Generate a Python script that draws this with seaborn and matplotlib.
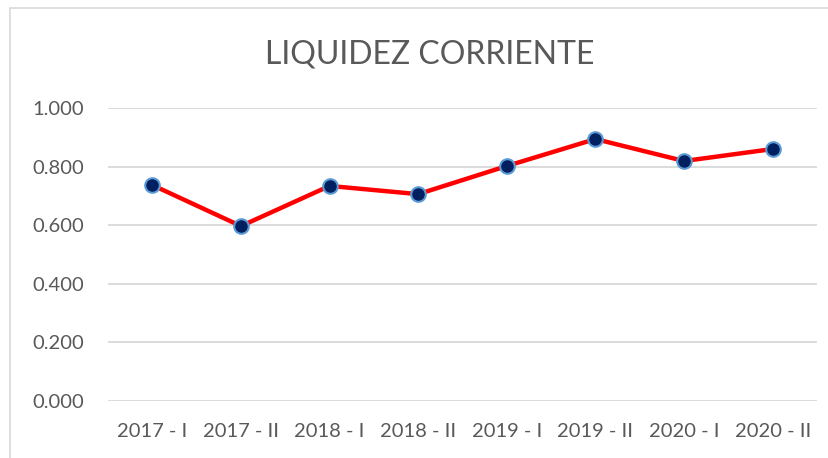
import matplotlib
matplotlib.use("Agg")
import matplotlib.pyplot as plt
import seaborn as sns
import pandas as pd
from matplotlib.ticker import FuncFormatter, FixedLocator
from matplotlib.patches import Rectangle

periodos = ["2017 - I", "2017 - II", "2018 - I", "2018 - II",
            "2019 - I", "2019 - II", "2020 - I", "2020 - II"]
liquidez = [0.737, 0.597, 0.734, 0.706, 0.802, 0.894, 0.819, 0.860]
y_ticks = [0.0, 0.2, 0.4, 0.6, 0.8, 1.0]
titulo = "LIQUIDEZ CORRIENTE"

df = pd.DataFrame({"periodo": periodos, "valor": liquidez})

sns.set_theme(style="white")
plt.rcParams["font.family"] = ["Lato", "DejaVu Sans"]

W, H = 829, 458
fig = plt.figure(figsize=(W / 100, H / 100), dpi=100)
fig.patches.append(Rectangle((10 / W, -0.1), 1.2, 1 - 8 / H + 0.1,
                             transform=fig.transFigure, fill=False,
                             edgecolor="#D9D9D9", linewidth=1.2))
ax = fig.add_axes([108 / W, 1 - 401 / H, (817 - 108) / W, (401 - 108) / H])

sns.lineplot(data=df, x="periodo", y="valor", sort=False, ax=ax,
             color="#FF0000", linewidth=3.2, marker="o", markersize=10.5,
             markerfacecolor="#002060", markeredgecolor="#5B9BD5",
             markeredgewidth=1.5, zorder=3)

ax.set_ylim(0, 1.0)
ax.set_xlim(-0.5, len(periodos) - 0.5)
ax.yaxis.set_major_locator(FixedLocator(y_ticks))
ax.yaxis.set_major_formatter(FuncFormatter(lambda v, p: f"{v:.3f}"))
ax.grid(axis="y", color="#D9D9D9", linewidth=1.3)
ax.grid(axis="x", visible=False)
for s in ax.spines.values():
    s.set_visible(False)
ax.set_xlabel("")
ax.set_ylabel("")
ax.tick_params(axis="both", length=0, labelsize=14.5, colors="#595959")
ax.tick_params(axis="y", pad=17)
ax.tick_params(axis="x", pad=16)

fig.text(430 / W, 1 - 54 / H, titulo, ha="center", va="center",
         fontsize=23, color="#595959")

fig.savefig("out.png", dpi=100)
